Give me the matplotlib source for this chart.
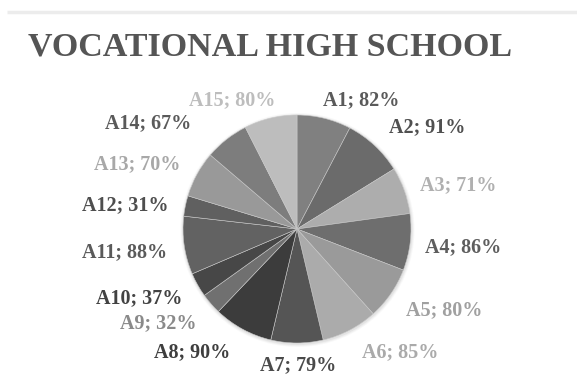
import matplotlib
matplotlib.use("Agg")
import matplotlib.pyplot as plt

# Share of respondents per item, vocational high school
categories = ["A1", "A2", "A3", "A4", "A5", "A6", "A7", "A8",
              "A9", "A10", "A11", "A12", "A13", "A14", "A15"]
values = [82, 91, 71, 86, 80, 85, 79, 90, 32, 37, 88, 31, 70, 67, 80]

# Grey shade for every slice and its label
slice_colors = ["#808080", "#6b6b6b", "#adadad", "#6e6e6e", "#9a9a9a",
                "#ababab", "#555555", "#3c3c3c", "#707070", "#474747",
                "#626262", "#606060", "#999999", "#7d7d7d", "#bdbdbd"]
label_colors = ["#5a5a5a", "#505050", "#b0b0b0", "#5e5e5e", "#a0a0a0",
                "#aaaaaa", "#4a4a4a", "#3e3e3e", "#8a8a8a", "#424242",
                "#5a5a5a", "#4e4e4e", "#a8a8a8", "#5a5a5a", "#bdbdbd"]

# Label anchor points (pixels from the top-left corner)
label_xy = [(361, 100), (427, 127), (458, 185), (463, 247), (444, 310),
            (400, 352), (298, 365), (192, 352), (158, 323), (139, 298),
            (125, 252), (125, 205), (137, 164), (148, 123), (232, 100)]

W, H = 577, 382
fig = plt.figure(figsize=(W / 100, H / 100), dpi=100)
ax = fig.add_axes([0, 0, 1, 1])

cx, cy, r = 297, H - 229, 114

# soft shadow under the pie
for k, a in [(3.0, 0.05), (2.0, 0.07), (1.0, 0.10)]:
    ax.add_patch(plt.Circle((cx + 0.5, cy - 1), r + k, color="#808080",
                            alpha=a, lw=0, zorder=0))

ax.pie(values, colors=slice_colors, startangle=90, counterclock=False,
       center=(cx, cy), radius=r,
       wedgeprops=dict(edgecolor="#c8c8c8", linewidth=0.4))

serif = ["Liberation Serif", "DejaVu Serif"]
for cat, val, (px, py), col in zip(categories, values, label_xy, label_colors):
    ax.text(px, H - py, f"{cat}; {val}%", ha="center", va="center",
            fontsize=14.5, fontweight="bold", family=serif, color=col)

ax.text(270, H - 47, "VOCATIONAL HIGH SCHOOL", ha="center", va="center",
        fontsize=24.5, fontweight="bold", family=serif, color="#555555")

# thin divider at the top
ax.plot([7, W], [H - 11.5, H - 11.5], color="#ececec", lw=2.5,
        solid_capstyle="butt")

ax.set_xlim(0, W)
ax.set_ylim(0, H)
ax.set_aspect("equal")
ax.axis("off")

fig.savefig("out.png", dpi=100, facecolor="white")
